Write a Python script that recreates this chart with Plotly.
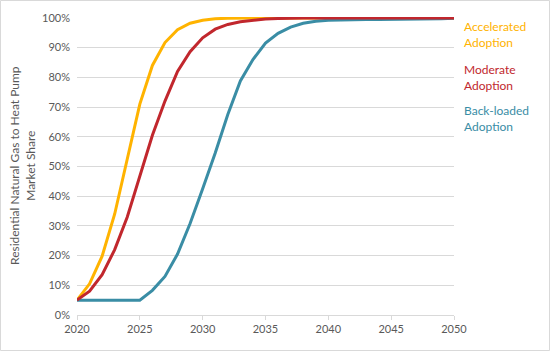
import plotly.graph_objects as go

years = list(range(2020, 2051))

accelerated = [5, 10.5, 19.8, 34, 52.5, 71, 84, 91.7, 96, 98.2, 99.2, 99.7, 99.9, 100, 100,
               100, 100, 100, 100, 100, 100, 100, 100, 100, 100, 100, 100, 100, 100, 100, 100]
moderate = [5, 8, 13.6, 22, 33, 46.5, 60.5, 72, 82, 88.6, 93.3, 96.2, 97.8, 98.7, 99.2,
            99.6, 99.8, 100, 100, 100, 100, 100, 100, 100, 100, 100, 100, 100, 100, 100, 100]
backloaded = [5, 5, 5, 5, 5, 5, 8.3, 13, 20.5, 30.8, 42.5, 54.5, 67.5, 78.8, 86, 91.5,
              94.8, 96.9, 98.2, 98.9, 99.2, 99.35, 99.4, 99.45, 99.5, 99.5, 99.5, 99.5, 99.55, 99.7, 99.9]

series_names = ["Accelerated<br>Adoption", "Moderate<br>Adoption", "Back-loaded<br>Adoption"]
series_colors = ["#FFB300", "#C1272D", "#3A8DA5"]
label_y = [94.3, 80.1, 66.0]

ytick_vals = [0, 10, 20, 30, 40, 50, 60, 70, 80, 90, 100]
ytick_text = [f"{v}%" for v in ytick_vals]
xtick_vals = [2020, 2025, 2030, 2035, 2040, 2045, 2050]

W, H = 551, 352
ml, mr, mt, mb = 77, 97, 17, 37
pw, ph = W - ml - mr, H - mt - mb

fig = go.Figure()
# drawing order: accelerated, back-loaded, moderate (moderate on top)
for vals, color in [(accelerated, series_colors[0]), (backloaded, series_colors[2]), (moderate, series_colors[1])]:
    fig.add_trace(go.Scatter(x=years, y=vals, mode="lines",
                             line=dict(color=color, width=3), showlegend=False,
                             hoverinfo="skip"))

font_fam = "Lato, 'Open Sans', sans-serif"
for name, color, yv in zip(series_names, series_colors, label_y):
    fig.add_annotation(x=(462 - ml) / pw, xref="paper", y=yv, yref="y",
                       text=name, showarrow=False, xanchor="left", yanchor="middle",
                       align="left", font=dict(color=color, size=12, family=font_fam))

fig.add_annotation(x=(22 - ml) / pw, xref="paper", y=0.5, yref="paper",
                   text="Residential Natural Gas to Heat Pump<br>Market Share",
                   textangle=-90, showarrow=False, xanchor="center", yanchor="middle",
                   font=dict(color="#595959", size=12, family=font_fam))

fig.add_shape(type="rect", xref="paper", yref="paper",
              x0=(0.5 - ml) / pw, x1=(W - 1.5 - ml) / pw,
              y0=-(mb - 1.5) / ph, y1=1 + (mt - 0.5) / ph,
              line=dict(color="#D9D9D9", width=1), fillcolor="rgba(0,0,0,0)", layer="below")

fig.update_layout(
    width=W, height=H,
    margin=dict(l=ml, r=mr, t=mt, b=mb),
    paper_bgcolor="white", plot_bgcolor="white",
    font=dict(family=font_fam, color="#595959", size=11),
    xaxis=dict(range=[2020, 2050], tickvals=xtick_vals, showgrid=False,
               showline=True, linecolor="#D9D9D9", linewidth=1,
               ticks="outside", ticklen=4, tickcolor="#D9D9D9",
               tickfont=dict(size=11, color="#595959"), zeroline=False, fixedrange=True),
    yaxis=dict(range=[0, 100.3], tickvals=ytick_vals, ticktext=ytick_text,
               showgrid=True, gridcolor="#D9D9D9", gridwidth=1,
               showline=False, zeroline=False, ticks="", ticklabelstandoff=6,
               tickfont=dict(size=11, color="#595959"), fixedrange=True),
)

fig.write_html("out.html")
